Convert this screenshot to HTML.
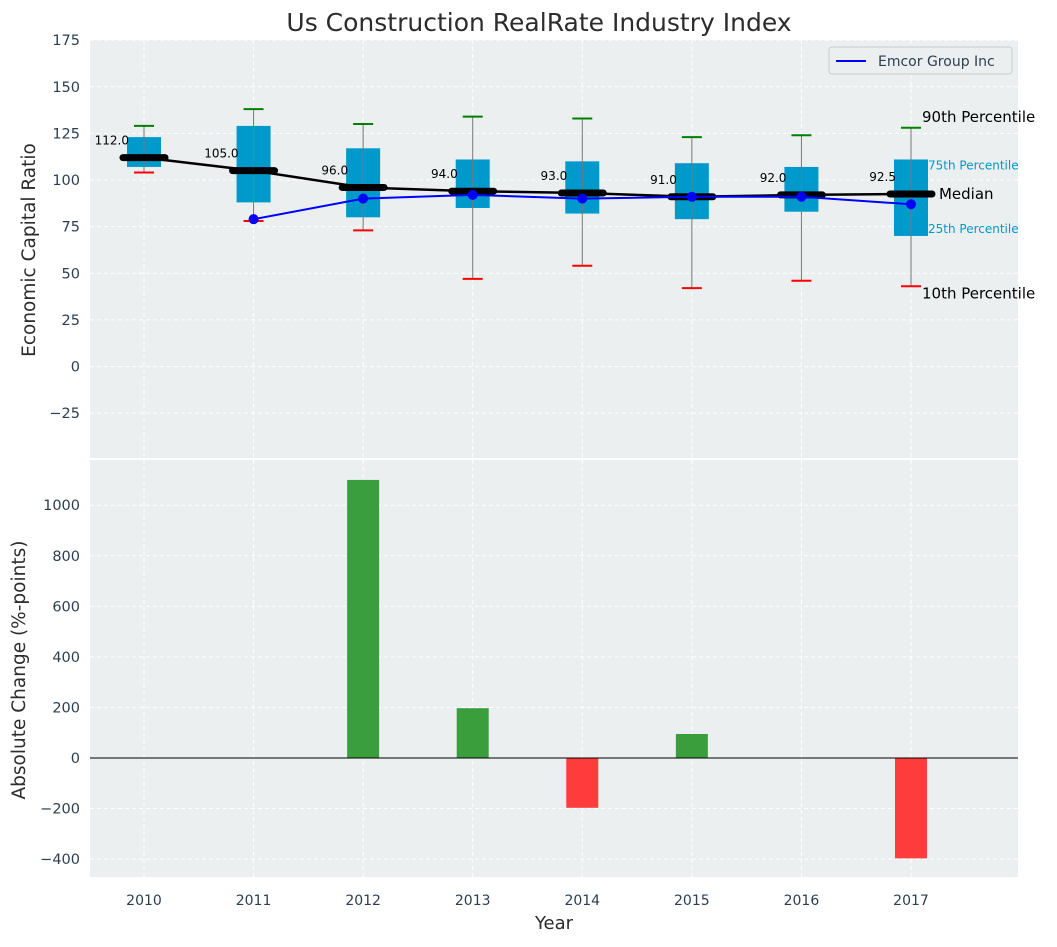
<!DOCTYPE html>
<html><head><meta charset="utf-8"><style>
body{margin:0;background:#fff;font-family:"Liberation Sans","DejaVu Sans",sans-serif}
svg text{font-family:"DejaVu Sans","Liberation Sans",sans-serif}
</style></head><body>
<svg id="c" width="1057" height="942" xmlns="http://www.w3.org/2000/svg"></svg>
<script>
const years=[2010,2011,2012,2013,2014,2015,2016,2017];
const p10=[104,78,73,47,54,42,46,43];
const q1=[107,88,80,85,82,79,83,70];
const med=[112,105,96,94,93,91,92,92.5];
const q3=[123,129,117,111,110,109,107,111];
const p90=[129,138,130,134,133,123,124,128];
const emcorYears=[2011,2012,2013,2014,2015,2016,2017];
const emcor=[79,90,92,90,91,91,87];
const changes=[0,0,1100,197,-197,95,0,-397];
const topTicks=[-25,0,25,50,75,100,125,150,175];
const botTicks=[-400,-200,0,200,400,600,800,1000];
const NS="http://www.w3.org/2000/svg";
const svg=document.getElementById('c');
function el(t,a,p){const e=document.createElementNS(NS,t);for(const k in a)e.setAttribute(k,a[k]);(p||svg).appendChild(e);return e;}
const X=y=>144+(y-2010)*109.57;
const Yt=v=>366.5-v*1.865;
const Yb=v=>758-v*0.2528;
const L=90,R=1018;
const fmt=v=>(v<0?'\u2212':'')+Math.abs(v);
let g=el('g',{});
el('rect',{x:L,y:40,width:R-L,height:418,fill:'#ebeff0'},g);
let g2=el('g',{});
el('rect',{x:L,y:460,width:R-L,height:417,fill:'#ebeff0'},g2);
years.forEach(y=>{el('line',{x1:X(y),x2:X(y),y1:40,y2:458,stroke:'#fff','stroke-dasharray':'4,3'},g);el('line',{x1:X(y),x2:X(y),y1:460,y2:877,stroke:'#fff','stroke-dasharray':'4,3'},g2);
 const t=el('text',{x:X(y),y:905,'text-anchor':'middle','font-size':14,fill:'#2c3e50'});t.textContent=y;});
topTicks.forEach(v=>{el('line',{x1:L,x2:R,y1:Yt(v),y2:Yt(v),stroke:'#fff','stroke-dasharray':'4,3'},g);
 const t=el('text',{x:80,y:Yt(v)+5,'text-anchor':'end','font-size':14.5,fill:'#2c3e50'});t.textContent=fmt(v);});
botTicks.forEach(v=>{el('line',{x1:L,x2:R,y1:Yb(v),y2:Yb(v),stroke:'#fff','stroke-dasharray':'4,3'},g2);
 const t=el('text',{x:80,y:Yb(v)+5,'text-anchor':'end','font-size':14.5,fill:'#2c3e50'});t.textContent=fmt(v);});
years.forEach((y,i)=>{const x=X(y);
 const b=el('rect',{x:x-17,y:Yt(q3[i]),width:34,height:Yt(q1[i])-Yt(q3[i]),fill:'#0099cc'});
 el('line',{x1:x,x2:x,y1:Yt(p10[i]),y2:Yt(p90[i]),stroke:'#777','stroke-width':1});
 el('line',{x1:x-10,x2:x+10,y1:Yt(p90[i]),y2:Yt(p90[i]),stroke:'green','stroke-width':2});
 el('line',{x1:x-10,x2:x+10,y1:Yt(p10[i]),y2:Yt(p10[i]),stroke:'red','stroke-width':2});
});
const ml=el('polyline',{points:years.map((y,i)=>X(y)+','+Yt(med[i])).join(' '),fill:'none',stroke:'#000','stroke-width':2.5});
years.forEach((y,i)=>{const x=X(y);
 const m=el('line',{x1:x-21,x2:x+21,y1:Yt(med[i]),y2:Yt(med[i]),stroke:'#000','stroke-width':7,'stroke-linecap':'round'});
 const t=el('text',{x:x-15,y:Yt(med[i])-13,'text-anchor':'end','font-size':12,fill:'#000'});t.textContent=med[i].toFixed(1);});
const el2=el('polyline',{points:emcorYears.map((y,i)=>X(y)+','+Yt(emcor[i])).join(' '),fill:'none',stroke:'blue','stroke-width':2});
emcorYears.forEach((y,i)=>{const c=el('circle',{cx:X(y),cy:Yt(emcor[i]),r:5,fill:'blue'});});
const lx=X(2017);
[['90th Percentile',p90[7],11,'#000',15,-6],['75th Percentile',q3[7],17,'#0099cc',12,10],['Median',med[7],28,'#000',15,5],['25th Percentile',q1[7],17,'#0099cc',12,-3],['10th Percentile',p10[7],11,'#000',15,12]].forEach(a=>{
 const t=el('text',{x:lx+a[2],y:Yt(a[1])+a[5],'font-size':a[4],fill:a[3]});t.textContent=a[0];});
const lg=el('g',{});
el('rect',{x:829,y:47,width:183,height:27,fill:'#ebeff0',stroke:'#ccc',rx:3},lg);
el('line',{x1:836,x2:866,y1:61,y2:61,stroke:'blue','stroke-width':2},lg);
const lt=el('text',{x:878,y:66,'font-size':14,fill:'#2c3e50'},lg);lt.textContent='Emcor Group Inc';
years.forEach((y,i)=>{if(!changes[i])return;const v=changes[i];
 const b=el('rect',{x:X(y)-16,y:Math.min(Yb(0),Yb(v)),width:32,height:Math.abs(Yb(v)-Yb(0)),fill:v>0?'#3a9e3d':'#ff3c3c'});});
el('line',{x1:L,x2:R,y1:Yb(0),y2:Yb(0),stroke:'#000','stroke-width':1});
const tt=el('text',{x:539,y:31,'text-anchor':'middle','font-size':25,fill:'#2c2c2c'});tt.textContent='Us Construction RealRate Industry Index';
const xt=el('text',{x:554,y:929,'text-anchor':'middle','font-size':18,fill:'#2c2c2c'});xt.textContent='Year';
const y1=el('text',{x:0,y:0,transform:'translate(35,250) rotate(-90)','text-anchor':'middle','font-size':18.5,fill:'#2c2c2c'});y1.textContent='Economic Capital Ratio';
const y2=el('text',{x:0,y:0,transform:'translate(25,670) rotate(-90)','text-anchor':'middle','font-size':18.5,fill:'#2c2c2c'});y2.textContent='Absolute Change (%-points)';
</script>
</body></html>
